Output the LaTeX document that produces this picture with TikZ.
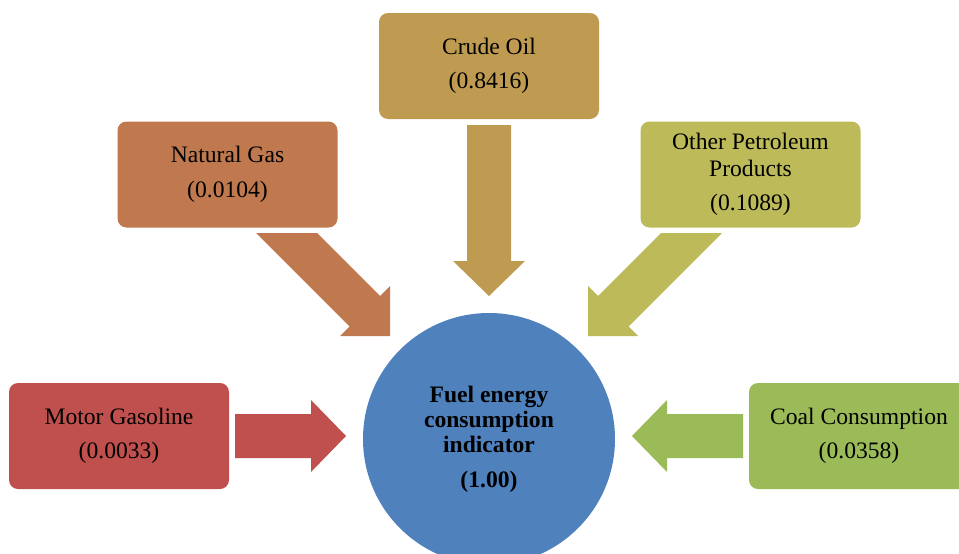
\documentclass[tikz,border=0pt]{standalone}
\usepackage{fontspec}
\setmainfont{Liberation Serif}
\definecolor{crude}{HTML}{BF9B52}
\definecolor{natgas}{HTML}{C0794F}
\definecolor{otherpet}{HTML}{BDBB59}
\definecolor{motor}{HTML}{C0504D}
\definecolor{coal}{HTML}{9BBB59}
\definecolor{hub}{HTML}{4F81BD}
\tikzset{
  source/.style={rounded corners=9pt, minimum width=220pt, minimum height=106pt,
    inner sep=0pt, align=center, text=black,
    font=\fontsize{23.6}{27}\selectfont},
  hubnode/.style={circle, fill=hub, minimum size=252pt, inner sep=0pt,
    align=center, text=black, font=\bfseries\fontsize{23.6}{25}\selectfont},
}
\begin{document}
\begin{tikzpicture}[x=1pt,y=-1pt]
\clip (0,0) rectangle (959,554);

% central indicator
\node[hubnode] (fuel) at (489,439) {Fuel energy\\consumption\\indicator\\[10pt](1.00)};

% input sources
\node[source, fill=crude]    (crude)  at (489,66)    {Crude Oil\\[7.5pt](0.8416)};
\node[source, fill=natgas]   (gas)    at (227.5,174.5) {Natural Gas\\[7.5pt](0.0104)};
\node[source, fill=otherpet] (other)  at (750.5,174.5) {Other Petroleum\\Products\\[7.5pt](0.1089)};
\node[source, fill=motor]    (motor)  at (119,436)   {Motor Gasoline\\[7.5pt](0.0033)};
\node[source, fill=coal]     (coalc)  at (859,436)   {Coal Consumption\\[7.5pt](0.0358)};

% block arrows pointing into the indicator
\fill[crude] (467,125) -- (511,125) -- (511,261) -- (525,261) -- (489,296)
  -- (453,261) -- (467,261) -- cycle;
\fill[motor] (235,414) -- (311,414) -- (311,400) -- (346,436) -- (311,472)
  -- (311,458) -- (235,458) -- cycle;
\fill[coal] (743,414) -- (667,414) -- (667,400) -- (632,436) -- (667,472)
  -- (667,458) -- (743,458) -- cycle;
\fill[natgas] (256,233) -- (317,233) -- (380,296) -- (390,286) -- (390,336)
  -- (340,336) -- (349.5,326.5) -- cycle;
\fill[otherpet] (722,233) -- (661,233) -- (598,296) -- (588,286) -- (588,336)
  -- (638,336) -- (628.5,326.5) -- cycle;
\end{tikzpicture}
\end{document}
